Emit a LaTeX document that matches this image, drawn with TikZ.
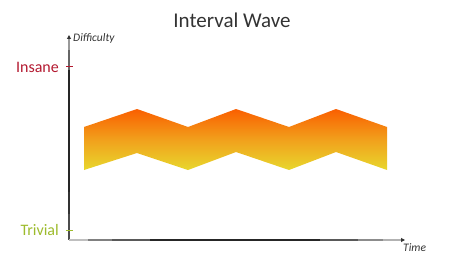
\documentclass[tikz,border=0pt]{standalone}
\usepackage{fontspec}
\setmainfont{Carlito}
\usetikzlibrary{arrows.meta}
\definecolor{ink}{HTML}{333333}
\definecolor{insanered}{HTML}{B3182F}
\definecolor{trivialgreen}{HTML}{9DBB2C}
\definecolor{waveTop}{RGB}{250,95,0}
\definecolor{waveBot}{RGB}{232,215,45}
\tikzset{
  axisseg/.style={line width=1.6pt},
  ticklabel/.style={font=\fontsize{16}{16}\selectfont, anchor=east, inner sep=0pt},
  axislabel/.style={font=\fontsize{11.5}{11.5}\selectfont\itshape, text=ink, inner sep=0pt},
  tickmark/.style={line width=1pt},
}
\begin{document}
\begin{tikzpicture}[x=1pt,y=-1pt]
\useasboundingbox (0,0) rectangle (450,270);
% title
\node[font=\fontsize{21}{21}\selectfont, text=ink, inner sep=0pt] (title) at (232,20) {Interval Wave};
% axes coordinates
\coordinate (O) at (69,240);
\coordinate (ytop) at (69,35);
\coordinate (xend) at (405,240);
\coordinate (y1) at (69,50);
\coordinate (y2) at (69,70);
\coordinate (y3) at (69,192);
\coordinate (y4) at (69,214);
\coordinate (x1) at (88,240);
\coordinate (x2) at (112,240);
\coordinate (x3) at (150,240);
\coordinate (x4) at (320,240);
\coordinate (x5) at (358,240);
\coordinate (x6) at (383,240);
% vertical axis segments
\draw[axisseg, draw=black!70] (y4) -- (O);
\draw[axisseg, draw=black!80] (y3) -- (y4);
\draw[axisseg, draw=black!85] (y2) -- (y3);
\draw[axisseg, draw=black!60] (y1) -- (y2);
\draw[axisseg, draw=black!40, -{Triangle[length=4pt,width=4pt,color=black!80]}] (y1) -- (ytop);
% horizontal axis segments
\draw[axisseg, draw=black!25] (O) -- (x1);
\draw[axisseg, draw=black!50] (x1) -- (x2);
\draw[axisseg, draw=black!65] (x2) -- (x3);
\draw[axisseg, draw=black!85] (x3) -- (x4);
\draw[axisseg, draw=black!65] (x4) -- (x5);
\draw[axisseg, draw=black!45] (x5) -- (x6);
\draw[axisseg, draw=black!30, -{Triangle[length=4pt,width=4pt,color=black!80]}] (x6) -- (xend);
% axis labels
\node[axislabel, anchor=west] (diff) at (73,38) {Difficulty};
\node[axislabel, anchor=north west] (time) at (403,243) {Time};
% ticks
\coordinate (ti1) at (66,67);
\coordinate (ti2) at (73,67);
\draw[tickmark, draw=insanered] (ti1) -- (ti2);
\node[ticklabel, text=insanered] (insane) at (59,67) {Insane};
\coordinate (tt1) at (66,230);
\coordinate (tt2) at (73,230);
\draw[tickmark, draw=trivialgreen] (tt1) -- (tt2);
\node[ticklabel, text=trivialgreen] (trivial) at (59,230) {Trivial};
% wave band
\shade[top color=waveTop, bottom color=waveBot, middle color={rgb,255:red,241;green,160;blue,28}]
  (84,127) -- (137,109) -- (188,127) -- (236,109) -- (289,127) -- (336,109) -- (387,127)
  -- (387,170) -- (336,152) -- (289,170) -- (236,152) -- (188,170) -- (137,153) -- (84,170) -- cycle;
\end{tikzpicture}
\end{document}
